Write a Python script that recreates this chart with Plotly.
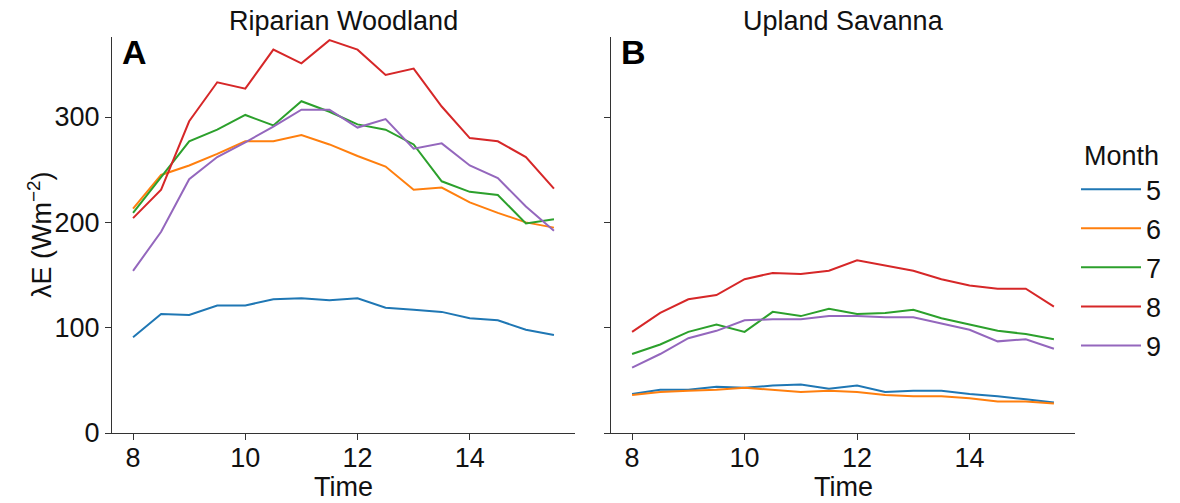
import plotly.graph_objects as go
from plotly.subplots import make_subplots

# Half-hourly time of day
time = [8.0, 8.5, 9.0, 9.5, 10.0, 10.5, 11.0, 11.5, 12.0, 12.5, 13.0, 13.5, 14.0, 14.5, 15.0, 15.5]
months = [5, 6, 7, 8, 9]
colors = ["#1f77b4", "#ff7f0e", "#2ca02c", "#d62728", "#9467bd"]

# Latent heat flux (W m-2), riparian woodland site
riparian_m5 = [91, 113, 112, 121, 121, 127, 128, 126, 128, 119, 117, 115, 109, 107, 98, 93]
riparian_m6 = [213, 245, 254, 265, 277, 277, 283, 274, 263, 253, 231, 233, 219, 209, 200, 195]
riparian_m7 = [209, 243, 277, 288, 302, 292, 315, 305, 293, 288, 274, 239, 229, 226, 199, 203]
riparian_m8 = [204, 231, 296, 333, 327, 364, 351, 373, 364, 340, 346, 310, 280, 277, 262, 232]
riparian_m9 = [154, 191, 241, 262, 276, 291, 307, 307, 290, 298, 270, 275, 254, 242, 215, 192]

# Latent heat flux (W m-2), upland savanna site
upland_m5 = [37, 41, 41, 44, 43, 45, 46, 42, 45, 39, 40, 40, 37, 35, 32, 29]
upland_m6 = [36, 39, 40, 41, 43, 41, 39, 40, 39, 36, 35, 35, 33, 30, 30, 28]
upland_m7 = [75, 84, 96, 103, 96, 115, 111, 118, 113, 114, 117, 109, 103, 97, 94, 89]
upland_m8 = [96, 114, 127, 131, 146, 152, 151, 154, 164, 159, 154, 146, 140, 137, 137, 120]
upland_m9 = [62, 75, 90, 97, 107, 108, 108, 111, 111, 110, 110, 104, 98, 87, 89, 80]

riparian = [riparian_m5, riparian_m6, riparian_m7, riparian_m8, riparian_m9]
upland = [upland_m5, upland_m6, upland_m7, upland_m8, upland_m9]

x_ticks = [8, 10, 12, 14]
y_ticks = [0, 100, 200, 300]
titles = ["Riparian Woodland", "Upland Savanna"]
panel_letters = ["A", "B"]

FONT = "Liberation Sans, Arial, sans-serif"
AXIS_COLOR = "#333333"
TEXT_COLOR = "#111111"
FS = 27

fig = make_subplots(rows=1, cols=2, shared_yaxes=True)

for i, m in enumerate(months):
    fig.add_trace(go.Scatter(x=time, y=riparian[i], mode="lines", name=str(m),
                             line=dict(color=colors[i], width=2),
                             legendgroup=str(m)), row=1, col=1)
    fig.add_trace(go.Scatter(x=time, y=upland[i], mode="lines", name=str(m),
                             line=dict(color=colors[i], width=2),
                             legendgroup=str(m), showlegend=False), row=1, col=2)

x_domains = [[112 / 1180, 575 / 1180], [611 / 1180, 1075 / 1180]]
y_domain = [1 - 433 / 503, 1 - 37 / 503]

common_axis = dict(showline=True, linecolor=AXIS_COLOR, linewidth=1.25,
                   ticks="outside", ticklen=6, tickwidth=1.25, tickcolor=AXIS_COLOR,
                   showgrid=False, zeroline=False, automargin=False,
                   tickfont=dict(size=FS, color=TEXT_COLOR, family=FONT))

for c in (1, 2):
    xa = "xaxis" if c == 1 else "xaxis2"
    ya = "yaxis" if c == 1 else "yaxis2"
    fig.layout[xa].update(domain=x_domains[c - 1], range=[7.625, 15.875],
                          tickvals=x_ticks, ticklabelstandoff=-6,
                          **common_axis)
    fig.layout[ya].update(domain=y_domain, range=[0, 376], tickvals=y_ticks,
                          **common_axis)

fig.layout.yaxis2.update(showticklabels=False)

# Axis titles
for k in range(2):
    d = x_domains[k]
    fig.add_annotation(text="Time", x=(d[0] + d[1]) / 2, y=1 - 487 / 503,
                       xref="paper", yref="paper", showarrow=False,
                       font=dict(size=FS, family=FONT, color=TEXT_COLOR),
                       xanchor="center", yanchor="middle")
fig.add_annotation(text="λE (Wm<sup>−2</sup>)", x=40 / 1180, y=(y_domain[0] + y_domain[1]) / 2,
                   xref="paper", yref="paper", showarrow=False, textangle=-90,
                   font=dict(size=FS, family=FONT, color=TEXT_COLOR),
                   xanchor="center", yanchor="middle")

# Panel titles and letters
for k in range(2):
    d = x_domains[k]
    fig.add_annotation(text=titles[k], x=(d[0] + d[1]) / 2, y=1 - 21 / 503,
                       xref="paper", yref="paper", showarrow=False,
                       font=dict(size=FS, family=FONT, color=TEXT_COLOR),
                       xanchor="center", yanchor="middle")
    fig.add_annotation(text="<b>" + panel_letters[k] + "</b>", x=d[0] + 8 / 1180,
                       y=1 - 52 / 503, xref="paper", yref="paper", showarrow=False,
                       font=dict(size=34, family=FONT, color="#000000"),
                       xanchor="left", yanchor="middle")

fig.update_layout(
    width=1180, height=503,
    margin=dict(l=0, r=0, t=0, b=0),
    paper_bgcolor="white", plot_bgcolor="white",
    font=dict(family=FONT, color=TEXT_COLOR),
    legend=dict(title=dict(text="Month", side="top center",
                           font=dict(size=FS, family=FONT)),
                font=dict(size=FS, family=FONT),
                itemwidth=60,
                x=1076 / 1180, y=1 - 130 / 503, xanchor="left", yanchor="top",
                tracegroupgap=1, bgcolor="rgba(0,0,0,0)"),
)

fig.write_html("out.html")
